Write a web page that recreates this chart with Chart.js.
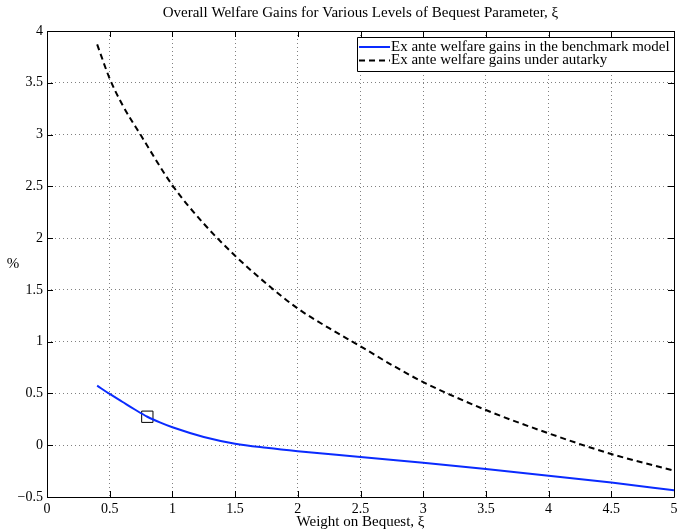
<!DOCTYPE html>
<html>
<head>
<meta charset="utf-8">
<script src="https://cdn.jsdelivr.net/npm/chart.js@4"></script>
<style>
  html, body { margin: 0; padding: 0; background: #fff; }
  #box { width: 683px; height: 532px; }
</style>
</head>
<body>
<div id="box"><canvas id="welfareChart"></canvas></div>
<script>
// values
var blueX = [0.4, 0.5, 0.6, 0.7, 0.8, 0.9, 1, 1.25, 1.5, 1.75, 2, 2.5, 3, 3.5, 4, 4.5, 5];
var blueY = [0.575, 0.495, 0.42, 0.345, 0.275, 0.22, 0.173, 0.08, 0.015, -0.025, -0.058, -0.113, -0.17, -0.23, -0.295, -0.36, -0.435];
var autX = [0.4, 0.5, 0.6, 0.75, 1, 1.25, 1.5, 1.75, 2, 2.25, 2.5, 2.75, 3, 3.5, 4, 4.5, 5];
var autY = [3.87, 3.54, 3.29, 2.99, 2.51, 2.14, 1.83, 1.56, 1.32, 1.13, 0.955, 0.775, 0.61, 0.34, 0.115, -0.085, -0.245];
var markerPt = { x: 0.8, y: 0.275 };
var seriesLabels = ['Ex ante welfare gains in the benchmark model', 'Ex ante welfare gains under autarky'];
var xTicks = [0, 0.5, 1, 1.5, 2, 2.5, 3, 3.5, 4, 4.5, 5];
var yTicks = [-0.5, 0, 0.5, 1, 1.5, 2, 2.5, 3, 3.5, 4];
var titleText = 'Overall Welfare Gains for Various Levels of Bequest Parameter, ξ';
var xTitle = 'Weight on Bequest, ξ';
var yTitle = '%';

var serif = '"Liberation Serif", "Times New Roman", serif';

function pts(xs, ys) {
    return xs.map(function (x, i) { return { x: x, y: ys[i] }; });
}
function fmt(v) {
    return v < 0 ? '\u2212' + String(-v) : String(v);
}

// matlab-like frame, inward ticks, title, axis labels and legend
var matlabPlugin = {
    id: 'matlab',
    afterDraw: function (chart) {
        var c = chart.ctx, a = chart.chartArea;
        var xs = chart.scales.x, ys = chart.scales.y;
        c.save();
        c.strokeStyle = '#000';
        c.lineWidth = 1;
        c.beginPath();
        c.rect(Math.round(a.left) + 0.5, Math.round(a.top) + 0.5,
               Math.round(a.right - a.left), Math.round(a.bottom - a.top));
        c.stroke();
        c.beginPath();
        xTicks.forEach(function (t) {
            var px = Math.round(xs.getPixelForValue(t)) + 0.5;
            c.moveTo(px, a.bottom); c.lineTo(px, a.bottom - 6);
            c.moveTo(px, a.top); c.lineTo(px, a.top + 6);
        });
        yTicks.forEach(function (t) {
            var py = Math.round(ys.getPixelForValue(t)) + 0.5;
            c.moveTo(a.left, py); c.lineTo(a.left + 6, py);
            c.moveTo(a.right, py); c.lineTo(a.right - 6, py);
        });
        c.stroke();

        c.fillStyle = '#000';
        c.textAlign = 'center';
        c.textBaseline = 'middle';
        c.font = '15px ' + serif;
        c.fillText(titleText, (a.left + a.right) / 2, 13);
        c.fillText(xTitle, (a.left + a.right) / 2, 522);
        c.fillText(yTitle, 13, (a.top + a.bottom) / 2);

        // legend box
        var lx = 357, ly = 37, lw = Math.round(a.right) - lx, lh = 34;
        c.fillStyle = '#fff';
        c.fillRect(lx, ly, lw, lh);
        c.beginPath();
        c.rect(lx + 0.5, ly + 0.5, lw, lh);
        c.stroke();
        var ds = chart.data.datasets;
        [0, 1].forEach(function (i) {
            var yy = ly + 10 + i * 13.5;
            c.save();
            c.strokeStyle = ds[i].borderColor;
            c.lineWidth = 2;
            c.setLineDash(ds[i].borderDash || []);
            c.beginPath();
            c.moveTo(lx + 2, yy); c.lineTo(lx + 33, yy);
            c.stroke();
            c.restore();
            c.fillStyle = '#000';
            c.textAlign = 'left';
            c.font = '15px ' + serif;
            c.fillText(seriesLabels[i], lx + 34, yy);
        });
        c.restore();
    }
};

var ctx = document.getElementById('welfareChart').getContext('2d');
var welfareChart = new Chart(ctx, {
    type: 'line',
    data: {
        datasets: [{
            label: seriesLabels[0],
            data: pts(blueX, blueY),
            borderColor: '#0a2bff',
            borderWidth: 2,
            pointRadius: 0,
            cubicInterpolationMode: 'monotone'
        }, {
            label: seriesLabels[1],
            data: pts(autX, autY),
            borderColor: '#000',
            borderWidth: 2,
            borderDash: [6, 4],
            pointRadius: 0,
            cubicInterpolationMode: 'monotone'
        }, {
            label: 'marker',
            data: [markerPt],
            showLine: false,
            pointStyle: 'rect',
            pointRadius: 8,
            pointBorderColor: '#000',
            pointBorderWidth: 1,
            pointBackgroundColor: 'rgba(0,0,0,0)'
        }]
    },
    options: {
        responsive: true,
        maintainAspectRatio: false,
        animation: false,
        events: [],
        layout: { padding: { top: 31, right: 6, left: 0, bottom: 0 } },
        plugins: {
            legend: { display: false },
            title: { display: false },
            tooltip: { enabled: false }
        },
        scales: {
            x: {
                type: 'linear',
                min: 0, max: 5,
                afterFit: function (s) { s.height = 35; },
                afterBuildTicks: function (s) {
                    s.ticks = xTicks.map(function (v) { return { value: v }; });
                },
                border: { display: false, dash: [1, 3] },
                grid: { color: '#808080', drawTicks: false, lineWidth: 1 },
                ticks: {
                    padding: 4,
                    color: '#000',
                    font: { family: serif, size: 14 },
                    maxRotation: 0,
                    autoSkip: false,
                    callback: function (v) { return fmt(v); }
                }
            },
            y: {
                type: 'linear',
                min: -0.5, max: 4,
                afterFit: function (s) { s.width = 47; },
                afterBuildTicks: function (s) {
                    s.ticks = yTicks.map(function (v) { return { value: v }; });
                },
                border: { display: false, dash: [1, 3] },
                grid: { color: '#808080', drawTicks: false, lineWidth: 1 },
                ticks: {
                    padding: 4,
                    color: '#000',
                    font: { family: serif, size: 14 },
                    autoSkip: false,
                    callback: function (v) { return fmt(v); }
                }
            }
        }
    },
    plugins: [matlabPlugin]
});
</script>
</body>
</html>
